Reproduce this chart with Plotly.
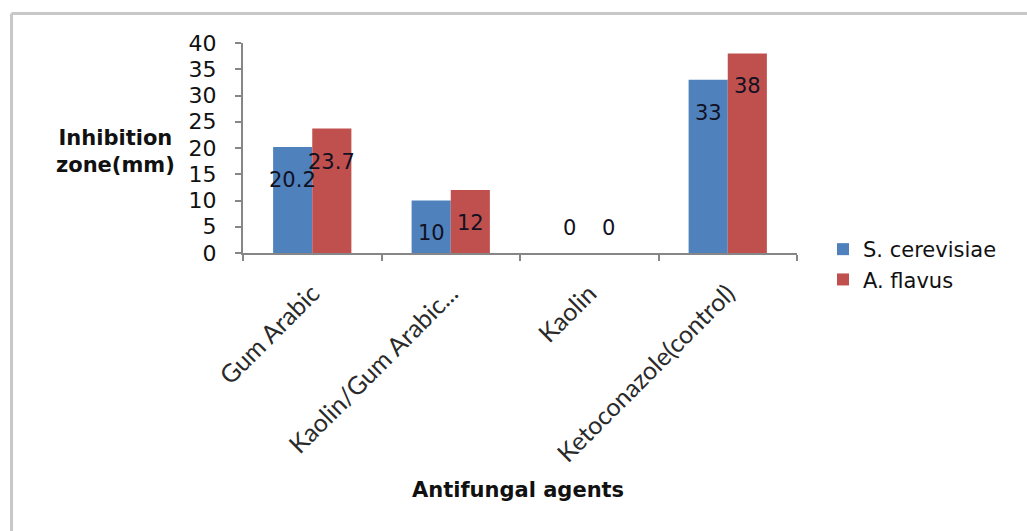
import plotly.graph_objects as go

# Inhibition zone diameters (mm) per antifungal agent
categories = ["Gum Arabic", "Kaolin/Gum Arabic...", "Kaolin", "Ketoconazole(control)"]
s_cerevisiae = [20.2, 10, 0, 33]
a_flavus = [23.7, 12, 0, 38]
series_names = ["S. cerevisiae", "A. flavus"]
y_ticks = [0, 5, 10, 15, 20, 25, 30, 35, 40]

W, H = 1027, 531
BLUE, RED = "#4F81BD", "#C0504D"
AXIS_GREY = "#868686"
LABEL_FONT = "DejaVu Sans"

# plot area in pixels (left, right, top, bottom)
PL, PR, PT, PB = 243, 797, 43, 253
BARGAP = 0.435

fig = go.Figure()
fig.add_trace(go.Bar(x=categories, y=s_cerevisiae, name=series_names[0],
                     marker=dict(color=BLUE, line=dict(width=0))))
fig.add_trace(go.Bar(x=categories, y=a_flavus, name=series_names[1],
                     marker=dict(color=RED, line=dict(width=0))))

# value labels sit a fixed distance below each bar top (above the axis for zeros)
cat_px = (PR - PL) / len(categories)
bar_px = cat_px * (1 - BARGAP) / 2
for vals, sign in ((s_cerevisiae, -1), (a_flavus, 1)):
    for cat, v in zip(categories, vals):
        fig.add_annotation(
            x=cat, y=v, xref="x", yref="y", text=f"{v:g}", showarrow=False,
            xanchor="center", yanchor="middle",
            xshift=sign * bar_px / 2, yshift=(-33 if v > 0 else 25),
            font=dict(family=LABEL_FONT, size=21, color="#111122"),
        )

# axis titles
fig.add_annotation(
    x=115 / W, y=1 - 151 / H, xref="paper", yref="paper",
    xanchor="center", yanchor="middle",
    text="<b>Inhibition<br>zone(mm)</b>", showarrow=False, align="center",
    font=dict(family=LABEL_FONT, size=21, color="#111111"),
)
fig.add_annotation(
    x=518 / W, y=1 - 490 / H, xref="paper", yref="paper",
    xanchor="center", yanchor="middle",
    text="<b>Antifungal agents</b>", showarrow=False,
    font=dict(family=LABEL_FONT, size=21, color="#111111"),
)

# light frame around the chart area
fig.add_shape(type="line", xref="paper", yref="paper",
              x0=11.5 / W, x1=1.02, y0=1 - 13.5 / H, y1=1 - 13.5 / H,
              line=dict(color="#c8c8c8", width=3))
fig.add_shape(type="line", xref="paper", yref="paper",
              x0=11.5 / W, x1=11.5 / W, y0=1 - 13.5 / H, y1=-0.02,
              line=dict(color="#c8c8c8", width=3))

fig.update_layout(
    width=W, height=H,
    margin=dict(l=0, r=0, t=0, b=0, autoexpand=False),
    paper_bgcolor="white", plot_bgcolor="white",
    barmode="group", bargap=BARGAP, bargroupgap=0,
    showlegend=True,
    legend=dict(
        x=823 / W, y=1 - 229 / H, xanchor="left", yanchor="top",
        font=dict(family=LABEL_FONT, size=21, color="#111111"),
        bgcolor="rgba(0,0,0,0)", tracegroupgap=0, itemsizing="constant",
    ),
    xaxis=dict(
        domain=[PL / W, PR / W], automargin=False,
        showline=True, linecolor=AXIS_GREY, linewidth=2,
        ticks="outside", tickson="boundaries", ticklen=6, tickcolor=AXIS_GREY, tickwidth=2,
        tickangle=-45, tickfont=dict(family="Lato", size=25, color="#2a2a2a"),
        ticklabelstandoff=14,
        showgrid=False, zeroline=False,
    ),
    yaxis=dict(
        domain=[1 - PB / H, 1 - PT / H], range=[0, 40], automargin=False,
        tickvals=y_ticks, ticktext=[str(t) for t in y_ticks],
        showline=True, linecolor=AXIS_GREY, linewidth=2,
        ticks="outside", ticklen=6, tickcolor=AXIS_GREY, tickwidth=2,
        tickfont=dict(family=LABEL_FONT, size=22, color="#111111"),
        ticklabelstandoff=14,
        showgrid=False, zeroline=False,
    ),
)

fig.write_html("out.html")
